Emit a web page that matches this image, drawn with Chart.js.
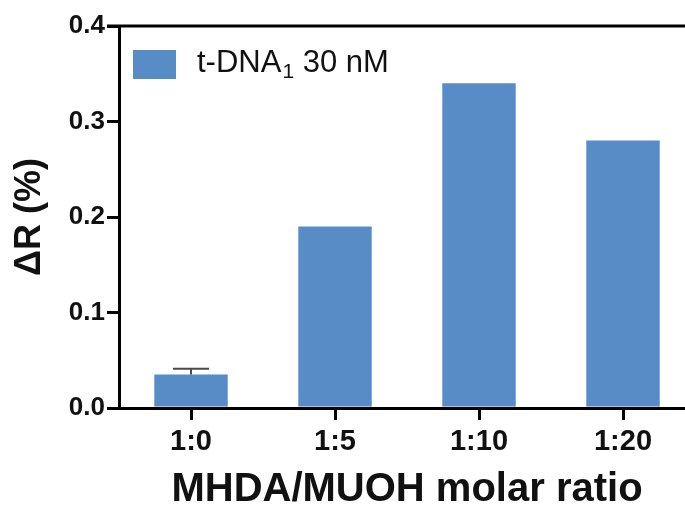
<!DOCTYPE html>
<html>
<head>
<meta charset="utf-8">
<script src="https://cdn.jsdelivr.net/npm/chart.js@4.4.1/dist/chart.umd.min.js"></script>
<style>
  html, body { margin: 0; padding: 0; background: #fff; overflow: hidden; }
  #wrap { position: relative; width: 720px; height: 506px; }
</style>
</head>
<body>
<div id="wrap"><canvas id="c" width="720" height="506"></canvas></div>
<script>
const categories = ['1:0', '1:5', '1:10', '1:20'];
const deltaR = [0.035, 0.19, 0.34, 0.28];
const deltaRErr = [0.006, 0, 0, 0];
const yTicks = [0.0, 0.1, 0.2, 0.3, 0.4];
const seriesName = 't-DNA';
const seriesSub = '1';
const seriesSuffix = ' 30 nM';

const FONT = '"Liberation Sans", Arial, Helvetica, sans-serif';
const BAR = '#578cc6';

// Closes the frame along the top edge of the plot
const topFrame = {
  id: 'topFrame',
  afterDraw(chart) {
    const { ctx, chartArea } = chart;
    ctx.save();
    ctx.strokeStyle = '#000';
    ctx.lineWidth = 3;
    ctx.beginPath();
    ctx.moveTo(chartArea.left - 12, chartArea.top);
    ctx.lineTo(chartArea.right + 30, chartArea.top);
    ctx.stroke();
    ctx.restore();
  }
};

// Upward error whiskers with a cap
const errorBars = {
  id: 'errorBars',
  afterDatasetsDraw(chart) {
    const { ctx } = chart;
    const meta = chart.getDatasetMeta(0);
    const y = chart.scales.y;
    ctx.save();
    ctx.strokeStyle = '#4a4a4a';
    ctx.lineWidth = 2;
    meta.data.forEach((bar, i) => {
      const e = deltaRErr[i];
      if (!e) return;
      const y0 = y.getPixelForValue(deltaR[i]);
      const y1 = y.getPixelForValue(deltaR[i] + e);
      ctx.beginPath();
      ctx.moveTo(bar.x, y0);
      ctx.lineTo(bar.x, y1);
      ctx.moveTo(bar.x - 18, y1);
      ctx.lineTo(bar.x + 18, y1);
      ctx.stroke();
    });
    ctx.restore();
  }
};

// Legend entry with a subscripted label
const subLegend = {
  id: 'subLegend',
  afterDraw(chart) {
    const { ctx, chartArea } = chart;
    const ds = chart.data.datasets[0];
    const bx = chartArea.left + 14, by = chartArea.top + 24;
    ctx.save();
    ctx.fillStyle = ds.backgroundColor;
    ctx.fillRect(bx, by, 43, 29);
    ctx.fillStyle = '#111';
    ctx.textBaseline = 'alphabetic';
    ctx.font = '31px ' + FONT;
    let tx = bx + 64;
    const base = by + 22;
    ctx.fillText(seriesName, tx, base);
    tx += ctx.measureText(seriesName).width;
    ctx.font = '21px ' + FONT;
    ctx.fillText(seriesSub, tx + 1, base + 6);
    tx += ctx.measureText(seriesSub).width + 1;
    ctx.font = '31px ' + FONT;
    ctx.fillText(seriesSuffix, tx, base);
    ctx.restore();
  }
};

new Chart(document.getElementById('c'), {
  type: 'bar',
  data: {
    labels: categories,
    datasets: [{
      label: seriesName + seriesSub + seriesSuffix,
      data: deltaR,
      backgroundColor: BAR,
      borderWidth: 0,
      barPercentage: 0.51,
      categoryPercentage: 1.0
    }]
  },
  options: {
    responsive: false,
    animation: false,
    layout: { padding: { top: 26, right: 25, left: 0, bottom: 0 } },
    plugins: { legend: { display: false }, tooltip: { enabled: false } },
    scales: {
      x: {
        grid: { display: true, drawOnChartArea: false, color: '#000', lineWidth: 3, tickLength: 12, offset: false },
        border: { display: true, color: '#000', width: 3 },
        ticks: { color: '#111', font: { family: FONT, size: 29, weight: 'bold' }, padding: 5, maxRotation: 0 },
        title: { display: true, text: 'MHDA/MUOH molar ratio', color: '#111', font: { family: FONT, size: 40, weight: 'bold' }, padding: { top: 0, bottom: -8 } },
        afterFit(s) { s.height = 98; }
      },
      y: {
        min: 0, max: 0.4,
        afterBuildTicks(s) { s.ticks = yTicks.map(v => ({ value: v })); },
        grid: { display: true, drawOnChartArea: false, color: '#000', lineWidth: 3, tickLength: 12 },
        border: { display: true, color: '#000', width: 3 },
        ticks: { color: '#111', font: { family: FONT, size: 26, weight: 'bold' }, padding: 2, callback: v => Number(v).toFixed(1) },
        title: { display: true, text: 'ΔR (%)', color: '#111', font: { family: FONT, size: 36, weight: 'bold' }, padding: { top: 8, bottom: 0 } },
        afterFit(s) { s.width = 119; }
      }
    }
  },
  plugins: [topFrame, errorBars, subLegend]
});
</script>
</body>
</html>
